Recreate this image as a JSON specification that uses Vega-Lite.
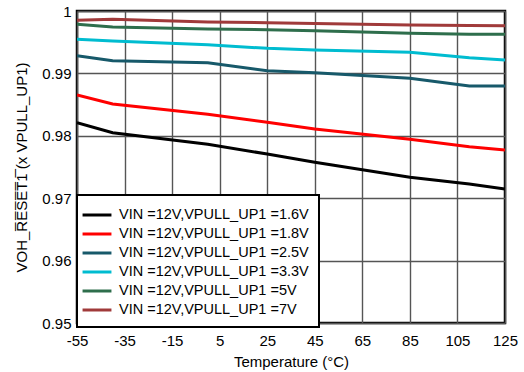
{
  "$schema": "https://vega.github.io/schema/vega-lite/v6.json",
  "width": 428,
  "height": 312,
  "autosize": "none",
  "padding": {"left": 77, "top": 11, "right": 19, "bottom": 49},
  "background": "white",
  "config": {
    "font": "Liberation Sans",
    "view": {"stroke": "black", "strokeWidth": 2.5},
    "axis": {
      "labelFont": "Liberation Sans",
      "titleFont": "Liberation Sans",
      "labelFontSize": 15,
      "titleFontSize": 15,
      "labelColor": "black",
      "titleColor": "black",
      "titleFontWeight": "normal",
      "domain": false,
      "ticks": false,
      "gridColor": "#555555",
      "gridWidth": 1.4,
      "gridOpacity": 1
    }
  },
  "data": {
    "values": [
      {"s": "1.6V", "t": -55, "v": 0.9821},
      {"s": "1.6V", "t": -40, "v": 0.9805},
      {"s": "1.6V", "t": 0, "v": 0.97864},
      {"s": "1.6V", "t": 25, "v": 0.97708},
      {"s": "1.6V", "t": 45, "v": 0.97575},
      {"s": "1.6V", "t": 85, "v": 0.97335},
      {"s": "1.6V", "t": 110, "v": 0.97228},
      {"s": "1.6V", "t": 125, "v": 0.97147},
      {"s": "1.8V", "t": -55, "v": 0.98654},
      {"s": "1.8V", "t": -40, "v": 0.9851},
      {"s": "1.8V", "t": 0, "v": 0.98345},
      {"s": "1.8V", "t": 25, "v": 0.98216},
      {"s": "1.8V", "t": 45, "v": 0.98109},
      {"s": "1.8V", "t": 85, "v": 0.97944},
      {"s": "1.8V", "t": 110, "v": 0.97826},
      {"s": "1.8V", "t": 125, "v": 0.97772},
      {"s": "2.5V", "t": -55, "v": 0.99284},
      {"s": "2.5V", "t": -40, "v": 0.99204},
      {"s": "2.5V", "t": 0, "v": 0.99172},
      {"s": "2.5V", "t": 25, "v": 0.99043},
      {"s": "2.5V", "t": 45, "v": 0.99011},
      {"s": "2.5V", "t": 85, "v": 0.98921},
      {"s": "2.5V", "t": 110, "v": 0.98798},
      {"s": "2.5V", "t": 125, "v": 0.98798},
      {"s": "3.3V", "t": -55, "v": 0.99546},
      {"s": "3.3V", "t": -40, "v": 0.99519},
      {"s": "3.3V", "t": 0, "v": 0.9946},
      {"s": "3.3V", "t": 25, "v": 0.99402},
      {"s": "3.3V", "t": 45, "v": 0.99375},
      {"s": "3.3V", "t": 85, "v": 0.99338},
      {"s": "3.3V", "t": 110, "v": 0.99252},
      {"s": "3.3V", "t": 125, "v": 0.99215},
      {"s": "5V", "t": -55, "v": 0.99787},
      {"s": "5V", "t": -40, "v": 0.99744},
      {"s": "5V", "t": 0, "v": 0.99712},
      {"s": "5V", "t": 25, "v": 0.997},
      {"s": "5V", "t": 45, "v": 0.99684},
      {"s": "5V", "t": 85, "v": 0.99642},
      {"s": "5V", "t": 110, "v": 0.99626},
      {"s": "5V", "t": 125, "v": 0.99626},
      {"s": "7V", "t": -55, "v": 0.99851},
      {"s": "7V", "t": -40, "v": 0.99867},
      {"s": "7V", "t": 0, "v": 0.99824},
      {"s": "7V", "t": 25, "v": 0.99813},
      {"s": "7V", "t": 45, "v": 0.998},
      {"s": "7V", "t": 85, "v": 0.99776},
      {"s": "7V", "t": 110, "v": 0.99768},
      {"s": "7V", "t": 125, "v": 0.99765}
    ]
  },
  "mark": {"type": "line", "strokeWidth": 3, "clip": true},
  "encoding": {
    "x": {
      "field": "t",
      "type": "quantitative",
      "scale": {"domain": [-55, 125], "nice": false, "zero": false},
      "axis": {"values": [-55, -35, -15, 5, 25, 45, 65, 85, 105, 125], "labelExpr": "replace(datum.label, '−', '-')", "labelFlush": false, "labelPadding": 10, "title": "Temperature (°C)", "titlePadding": 6}
    },
    "y": {
      "field": "v",
      "type": "quantitative",
      "scale": {"domain": [0.95, 1], "nice": false, "zero": false},
      "axis": {"values": [0.95, 0.96, 0.97, 0.98, 0.99, 1], "format": ".2~f", "labelFlush": false, "labelPadding": 6, "title": "VOH_R̅E̅S̅E̅T̅1̅ (x VPULL_UP1)", "titlePadding": 12}
    },
    "color": {
      "field": "s",
      "type": "nominal",
      "sort": ["1.6V", "1.8V", "2.5V", "3.3V", "5V", "7V"],
      "scale": {
        "domain": ["1.6V", "1.8V", "2.5V", "3.3V", "5V", "7V"],
        "range": ["#000000", "#ff0000", "#17596a", "#00bcd0", "#2e6e4c", "#a03a3a"]
      },
      "legend": {
        "title": null,
        "orient": "none",
        "legendX": 0,
        "legendY": 184,
        "labelExpr": "'VIN =12V,VPULL_UP1 =' + datum.label",
        "labelFont": "Liberation Sans",
        "labelFontSize": 14.5,
        "labelColor": "black",
        "labelLimit": 0,
        "symbolType": "M-1.7,0H1.7",
        "symbolSize": 289,
        "symbolStrokeWidth": 3,
        "fillColor": "white",
        "strokeColor": "black",
        "padding": 10,
        "rowPadding": 2.0,
        "labelOffset": 12,
        "encode": {"legend": {"update": {"strokeWidth": {"value": 2}}}}
      }
    }
  }
}
